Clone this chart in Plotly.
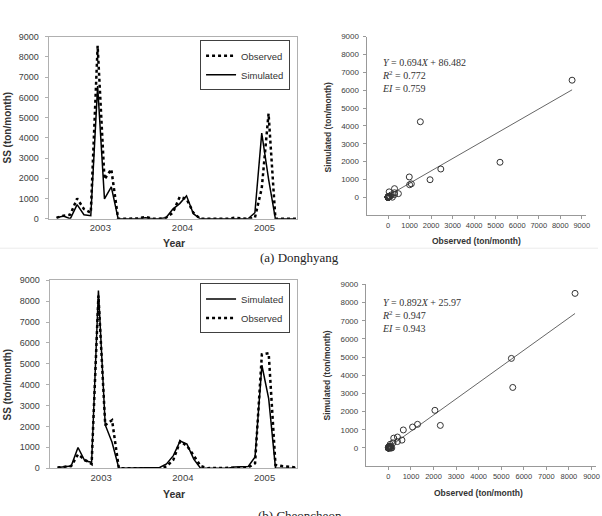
import plotly.graph_objects as go
import pandas as pd

W, H = 602, 516
SANS = "Liberation Sans, Arial, sans-serif"
SERIF = "Liberation Serif, Times New Roman, serif"

# ---------------- data ----------------
months = pd.date_range("2002-07-01", periods=36, freq="MS")
month_idx = list(range(len(months)))
year_labels = ["2003", "2004", "2005"]

# (a) Donghyang
obs_a = [50, 150, 200, 1000, 480, 300, 8550, 1950, 2450, 0, 0, 0,
         20, 100, 0, 0, 50, 300, 1080, 985, 300, 0, 0, 0,
         0, 0, 50, 20, 0, 50, 1500, 5200, 0, 0, 0, 0]
sim_a = [50, 130, 0, 700, 200, 150, 6560, 980, 1580, 0, 0, 0,
         0, 50, 0, 0, 50, 480, 750, 1135, 250, 0, 0, 0,
         0, 0, 30, 0, 0, 300, 4230, 1960, 0, 0, 0, 0]
fit_a = [0.694, 86.482]
stats_a = ["<i>Y</i> = 0.694<i>X</i> + 86.482", "<i>R</i><sup>2</sup> = 0.772", "<i>EI</i> = 0.759"]

# (b) Cheoncheon
obs_b = [30, 80, 100, 660, 400, 200, 8270, 2060, 2300, 0, 0, 0,
         0, 0, 0, 0, 80, 400, 1290, 1070, 600, 100, 0, 0,
         0, 0, 30, 30, 30, 235, 5450, 5510, 150, 100, 50, 30]
sim_b = [30, 60, 100, 990, 350, 280, 8510, 2070, 1240, 0, 0, 0,
         0, 0, 0, 30, 200, 600, 1300, 1150, 430, 0, 0, 0,
         0, 0, 50, 80, 80, 540, 4930, 3330, 0, 0, 0, 0]
fit_b = [0.892, 25.97]
stats_b = ["<i>Y</i> = 0.892<i>X</i> + 25.97", "<i>R</i><sup>2</sup> = 0.947", "<i>EI</i> = 0.943"]

tick_pos = [i + 0.4 for i, m in enumerate(months) if m.month == 1]
sc_ticks = list(range(0, 9001, 1000))


def xdom(a, b):
    return [a / W, b / W]


def ydom(top, bottom):
    return [1 - bottom / H, 1 - top / H]


fig = go.Figure()

DOT = dict(color="black", width=2.5, dash="dot")
SOL = dict(color="black", width=1.5)

# top time series
fig.add_trace(go.Scatter(x=month_idx, y=obs_a, mode="lines", line=DOT, name="Observed",
                         xaxis="x", yaxis="y", legend="legend"))
fig.add_trace(go.Scatter(x=month_idx, y=sim_a, mode="lines", line=SOL, name="Simulated",
                         xaxis="x", yaxis="y", legend="legend"))
# bottom time series
fig.add_trace(go.Scatter(x=month_idx, y=sim_b, mode="lines", line=SOL, name="Simulated",
                         xaxis="x3", yaxis="y3", legend="legend2"))
fig.add_trace(go.Scatter(x=month_idx, y=obs_b, mode="lines", line=DOT, name="Observed",
                         xaxis="x3", yaxis="y3", legend="legend2"))

# scatter plots
for obs, sim, fit, xa, ya in [(obs_a, sim_a, fit_a, "x2", "y2"), (obs_b, sim_b, fit_b, "x4", "y4")]:
    xmax = max(obs)
    fig.add_trace(go.Scatter(x=[0, xmax], y=[fit[1], fit[0] * xmax + fit[1]], mode="lines",
                             line=dict(color="#666", width=1), showlegend=False, xaxis=xa, yaxis=ya))
    fig.add_trace(go.Scatter(x=obs, y=sim, mode="markers",
                             marker=dict(symbol="circle-open", size=6, color="#333", line=dict(width=1)),
                             showlegend=False, xaxis=xa, yaxis=ya))

GRAY = "#b0b0b0"
tsx = dict(range=[-1.16, 35.16], tickvals=tick_pos, ticktext=year_labels, showline=True, linecolor=GRAY,
           mirror=True, ticks="", showgrid=False, zeroline=False,
           tickfont=dict(size=9.5, color="#404040", family=SANS))
tsy = dict(range=[0, 9000], dtick=1000, showline=True, linecolor=GRAY, mirror=True, ticks="outside",
           ticklen=3, tickcolor=GRAY, showgrid=False, zeroline=False, ticklabelstandoff=4,
           tickfont=dict(size=9, color="#404040", family=SANS))
scx = dict(range=[-1000, 9200], tickvals=sc_ticks, showline=True, linecolor="#999", ticks="outside",
           ticklen=3, tickcolor="#999", showgrid=False, zeroline=False,
           tickfont=dict(size=7.5, color="#404040", family=SANS))
scy = dict(range=[-1000, 9000], tickvals=sc_ticks, showline=True, linecolor="#999", ticks="outside",
           ticklen=3, tickcolor="#999", showgrid=False, zeroline=False, ticklabelstandoff=2,
           tickfont=dict(size=8, color="#404040", family=SANS))

LEG = dict(xanchor="right", yanchor="top", bordercolor="#404040", borderwidth=1, bgcolor="white",
           font=dict(size=9.5, family=SANS, color="#333"), tracegroupgap=0)

fig.update_layout(
    width=W, height=H, margin=dict(l=0, r=0, t=0, b=0),
    paper_bgcolor="white", plot_bgcolor="white",
    xaxis=dict(tsx, domain=xdom(49, 299), anchor="y"),
    yaxis=dict(tsy, domain=ydom(32.3, 218), anchor="x"),
    xaxis2=dict(scx, domain=xdom(369, 590), anchor="y2"),
    yaxis2=dict(scy, domain=ydom(32.3, 214.2), anchor="x2"),
    xaxis3=dict(tsx, domain=xdom(50, 299), anchor="y3"),
    yaxis3=dict(tsy, domain=ydom(280.7, 472.3), anchor="x3"),
    xaxis4=dict(scx, domain=xdom(368.3, 600), anchor="y4"),
    yaxis4=dict(scy, domain=ydom(285, 470.2), anchor="x4"),
    legend=dict(LEG, x=292 / W, y=1 - 36 / H),
    legend2=dict(LEG, x=292 / W, y=1 - 284 / H),
)


def ann(text, px, py, size, family=SANS, bold=False, angle=0, xanchor="center", color="#333", align="center"):
    t = f"<b>{text}</b>" if bold else text
    fig.add_annotation(text=t, x=px / W, y=1 - py / H, xref="paper", yref="paper", showarrow=False,
                       xanchor=xanchor, yanchor="middle", textangle=angle, align=align,
                       font=dict(size=size, family=family, color=color))


# axis titles
ann("SS (ton/month)", 8, 125, 10, bold=True, angle=-90)
ann("Year", 175, 243, 10.5, bold=True)
ann("Simulated (ton/month)", 330, 125, 8.5, bold=True, angle=-90)
ann("Observed (ton/month)", 480, 241, 8.5, bold=True)
ann("SS (ton/month)", 8, 387, 10, bold=True, angle=-90)
ann("Year", 175, 499, 10.5, bold=True)
ann("Simulated (ton/month)", 329, 378, 8.5, bold=True, angle=-90)
ann("Observed (ton/month)", 482, 498, 8.5, bold=True)

# statistics text (one block each)
ann("<br>".join(stats_a), 382.5, 72, 10, family=SERIF, xanchor="left", align="left")
ann("<br>".join(stats_b), 383, 316.5, 10, family=SERIF, xanchor="left", align="left")

# captions
ann("(a) Donghyang", 302, 257.5, 13, family=SERIF, color="#222")
ann("(b) Cheoncheon", 302, 521, 13, family=SERIF, color="#222")

fig.add_shape(type="line", xref="paper", yref="paper", x0=0, x1=1, y0=1 - 248 / H, y1=1 - 248 / H,
              line=dict(color="#ebebeb", width=1))

fig.write_html("out.html")
